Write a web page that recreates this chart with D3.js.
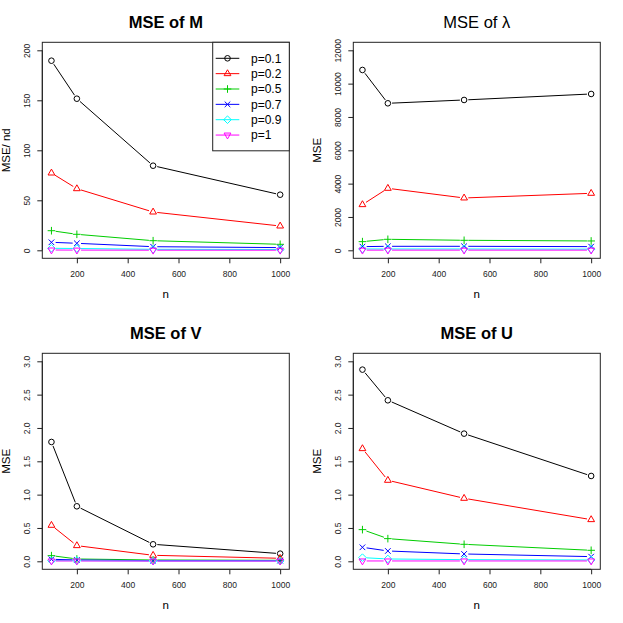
<!DOCTYPE html>
<html>
<head>
<meta charset="utf-8">
<script src="https://cdn.jsdelivr.net/npm/d3@7"></script>
<style>
  body { margin: 0; background: #fff; }
  svg { display: block; font-family: "Liberation Sans", Arial, sans-serif; }
</style>
</head>
<body>
<div id="chart"></div>
<script>
// sample sizes on the x axis
const nValues = [100, 200, 500, 1000];
const pLabels = ["p=0.1", "p=0.2", "p=0.5", "p=0.7", "p=0.9", "p=1"];
const colors = ["#000000", "#FF0000", "#00CD00", "#0000FF", "#00FFFF", "#FF00FF"];
const xTicks = [200, 400, 600, 800, 1000];

// one row per p value, one column per n
const mseM = [
  [189.6, 151.6, 84.6, 55.6],
  [77.3, 61.6, 38.3, 24.3],
  [19.6, 16.0, 9.6, 6.0],
  [8.0, 7.0, 3.6, 2.7],
  [2.0, 1.8, 1.0, 0.8],
  [0.3, 0.2, 0.1, 0.1]
];
const mseLambda = [
  [10820, 8820, 9020, 9380],
  [2740, 3720, 3140, 3420],
  [520, 660, 600, 560],
  [220, 240, 240, 220],
  [80, 80, 80, 70],
  [10, 10, 10, 10]
];
const mseV = [
  [1.79, 0.825, 0.255, 0.115],
  [0.54, 0.235, 0.09, 0.045],
  [0.085, 0.035, 0.02, 0.015],
  [0.03, 0.02, 0.01, 0.01],
  [0.01, 0.01, 0.005, 0.005],
  [0.005, 0.005, 0.003, 0.003]
];
const mseU = [
  [2.875, 2.415, 1.915, 1.28],
  [1.69, 1.215, 0.945, 0.625],
  [0.475, 0.34, 0.255, 0.165],
  [0.21, 0.155, 0.11, 0.07],
  [0.055, 0.035, 0.025, 0.02],
  [0.005, 0.005, 0.005, 0.005]
];

const ticksM = [0, 50, 100, 150, 200];
const ticksLambda = [0, 2000, 4000, 6000, 8000, 10000, 12000];
const ticksVU = [0, 0.5, 1, 1.5, 2, 2.5, 3];

const panels = [
  {title: "MSE of M", bold: true, ylab: "MSE/ nd", data: mseM, ticks: ticksM, fmt: d3.format("d"), dx: 0, dy: 0, legend: true},
  {title: "MSE of \u03bb", bold: false, ylab: "MSE", data: mseLambda, ticks: ticksLambda, fmt: d3.format("d"), dx: 311, dy: 0},
  {title: "MSE of V", bold: true, ylab: "MSE", data: mseV, ticks: ticksVU, fmt: d3.format(".1f"), dx: 0, dy: 311},
  {title: "MSE of U", bold: true, ylab: "MSE", data: mseU, ticks: ticksVU, fmt: d3.format(".1f"), dx: 311, dy: 311}
];

const W = 623, H = 623;
const box = {left: 42.3, right: 289.3, top: 42.3, bottom: 258.3};

const svg = d3.select("#chart").append("svg")
  .attr("width", W).attr("height", H);

// R-like point symbols (pch 1..6)
function symbolPath(i) {
  const r = 2.8;
  switch (i) {
    case 0: return d3.arc()({innerRadius: 0, outerRadius: r, startAngle: 0, endAngle: 2 * Math.PI});
    case 1: return "M0,-3.9L3.4,2L-3.4,2Z";
    case 2: return "M-3.8,0H3.8M0,-3.8V3.8";
    case 3: return "M-2.8,-2.8L2.8,2.8M-2.8,2.8L2.8,-2.8";
    case 4: return "M0,-3.8L3.8,0L0,3.8L-3.8,0Z";
    default: return "M0,3.9L3.4,-2L-3.4,-2Z";
  }
}

function drawSymbol(g, i, x, y) {
  g.append("path")
    .attr("d", symbolPath(i))
    .attr("transform", "translate(" + x + "," + y + ")")
    .attr("fill", "none")
    .attr("stroke", colors[i])
    .attr("stroke-width", 1);
}

panels.forEach(function(p) {
  const g = svg.append("g").attr("transform", "translate(" + p.dx + "," + p.dy + ")");

  const xPad = 0.04 * (1000 - 100);
  const x = d3.scaleLinear()
    .domain([100 - xPad, 1000 + xPad])
    .range([box.left, box.right]);
  const yMax = p.ticks[p.ticks.length - 1];
  const yPad = 0.04 * yMax;
  const y = d3.scaleLinear()
    .domain([-yPad, yMax + yPad])
    .range([box.bottom, box.top]);

  // x axis
  const xAxis = g.append("g")
    .attr("transform", "translate(0," + box.bottom + ")")
    .call(d3.axisBottom(x).tickValues(xTicks).tickSize(5).tickPadding(8).tickFormat(d3.format("d")));
  xAxis.select(".domain").attr("d", "M" + x(200) + ",0H" + x(1000)).attr("stroke", "#222");
  xAxis.selectAll(".tick line").attr("stroke", "#222");
  xAxis.selectAll(".tick text").attr("font-size", 8.5).attr("fill", "#222")
    .attr("font-family", "Liberation Sans, Arial, sans-serif");

  // y axis with rotated labels
  const yAxis = g.append("g")
    .attr("transform", "translate(" + box.left + ",0)")
    .call(d3.axisLeft(y).tickValues(p.ticks).tickSize(5).tickFormat(p.fmt));
  yAxis.select(".domain").attr("d", "M0," + y(0) + "V" + y(yMax)).attr("stroke", "#222");
  yAxis.selectAll(".tick line").attr("stroke", "#222");
  yAxis.selectAll(".tick text")
    .attr("font-size", 8.5).attr("fill", "#222")
    .attr("font-family", "Liberation Sans, Arial, sans-serif")
    .attr("x", null).attr("dy", null)
    .attr("text-anchor", "middle")
    .attr("transform", "translate(-12,0) rotate(-90)")
    .attr("y", 0).attr("dy", "0");

  // frame
  g.append("rect")
    .attr("x", box.left).attr("y", box.top)
    .attr("width", box.right - box.left).attr("height", box.bottom - box.top)
    .attr("fill", "none").attr("stroke", "#222").attr("stroke-width", 1);

  // titles
  g.append("text")
    .attr("x", (box.left + box.right) / 2).attr("y", 27.5)
    .attr("text-anchor", "middle")
    .attr("font-size", 16.5)
    .attr("font-weight", p.bold ? "bold" : "normal")
    .text(p.title);
  g.append("text")
    .attr("x", (box.left + box.right) / 2).attr("y", 297.5)
    .attr("text-anchor", "middle")
    .attr("font-size", 11.5)
    .text("n");
  g.append("text")
    .attr("transform", "translate(9.5," + ((box.top + box.bottom) / 2) + ") rotate(-90)")
    .attr("text-anchor", "middle")
    .attr("font-size", 11.5)
    .text(p.ylab);

  // series, drawn type="b" style (line segments stop short of the points)
  const gap = 4.2;
  p.data.forEach(function(series, i) {
    const pts = series.map(function(v, j) { return [x(nValues[j]), y(v)]; });
    for (let j = 0; j < pts.length - 1; j++) {
      const [x1, y1] = pts[j], [x2, y2] = pts[j + 1];
      const len = Math.hypot(x2 - x1, y2 - y1);
      if (len <= 2 * gap) continue;
      const ux = (x2 - x1) / len, uy = (y2 - y1) / len;
      g.append("line")
        .attr("x1", x1 + ux * gap).attr("y1", y1 + uy * gap)
        .attr("x2", x2 - ux * gap).attr("y2", y2 - uy * gap)
        .attr("stroke", colors[i]).attr("stroke-width", 1);
    }
    pts.forEach(function(pt) { drawSymbol(g, i, pt[0], pt[1]); });
  });

  if (p.legend) {
    const lg = g.append("g");
    const lx = 212.7, ly = box.top, lw = box.right - lx, lh = 108.5;
    lg.append("rect")
      .attr("x", lx).attr("y", ly).attr("width", lw).attr("height", lh)
      .attr("fill", "#fff").attr("stroke", "#222").attr("stroke-width", 1);
    pLabels.forEach(function(lab, i) {
      const yy = 58.3 + i * 15.35;
      lg.append("line")
        .attr("x1", 215.7).attr("x2", 239.3).attr("y1", yy).attr("y2", yy)
        .attr("stroke", colors[i]).attr("stroke-width", 1);
      drawSymbol(lg, i, 227.5, yy);
      lg.append("text")
        .attr("x", 251).attr("y", yy).attr("dy", "0.36em")
        .attr("font-size", 12)
        .text(lab);
    });
  }
});
</script>
</body>
</html>
